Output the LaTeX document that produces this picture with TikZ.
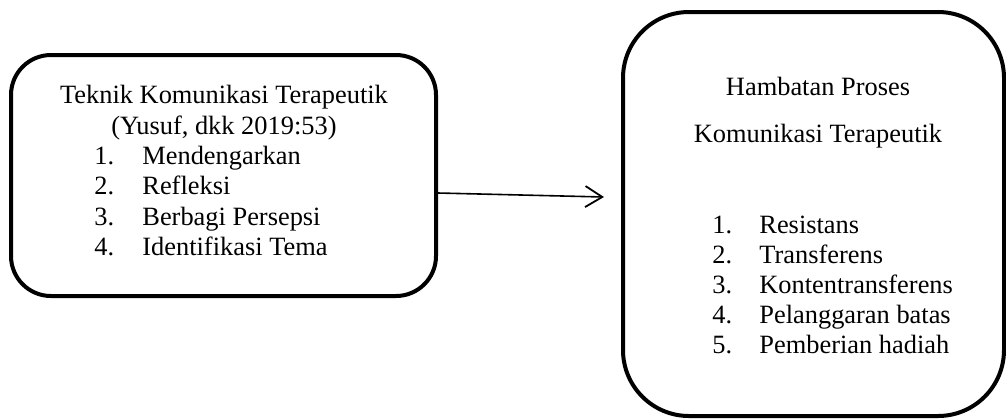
\documentclass[tikz,border=0pt]{standalone}
\usepackage{fontspec}
\setmainfont{Liberation Serif}
\usetikzlibrary{arrows.meta}
\begin{document}
\begin{tikzpicture}[x=0.5pt,y=-0.5pt,
  box/.style={draw=black,line width=2pt,fill=none,inner sep=0pt},
  txt/.style={inner sep=0pt,font=\fontsize{13.2pt}{15pt}\selectfont},
  ctext/.style={txt,anchor=base},
  ltext/.style={txt,anchor=base west},
  arr/.style={line width=0.8pt,-{Straight Barb[length=8.5pt,width=10.5pt,line width=0.9pt]}}]
\useasboundingbox (0,0) rectangle (1006,419);
% boxes
\node[box,rounded corners=20pt,minimum width=212.5pt,minimum height=120.5pt] (L) at (223.5,175.5) {};
\node[box,rounded corners=33pt,minimum width=190.5pt,minimum height=202pt] (R) at (813.5,214) {};
% left texts
\node[ctext] (lt1) at (224,103) {Teknik Komunikasi Terapeutik};
\node[ctext] (lt2) at (224,134) {(Yusuf, dkk 2019:53)};
\foreach \n/\t [count=\i from 0] in {1/Mendengarkan,2/Refleksi,3/Berbagi Persepsi,4/Identifikasi Tema}{
  \node[ltext] (ln\n) at (94,164.5+30.3*\i) {\n.};
  \node[ltext] (li\n) at (142,164.5+30.3*\i) {\t};
}
% right texts
\node[ctext] (rt1) at (818,95) {Hambatan Proses};
\node[ctext] (rt2) at (818,142) {Komunikasi Terapeutik};
\foreach \n/\t [count=\i from 0] in {1/Resistans,2/Transferens,3/Kontentransferens,4/Pelanggaran batas,5/Pemberian hadiah}{
  \node[ltext] (rn\n) at (712,233+30*\i) {\n.};
  \node[ltext] (ri\n) at (759,233+30*\i) {\t};
}
% arrow
\coordinate (tip) at (604,197);
\draw[arr] ([yshift=-8.75pt]L.east) -- (tip);
\end{tikzpicture}
\end{document}
